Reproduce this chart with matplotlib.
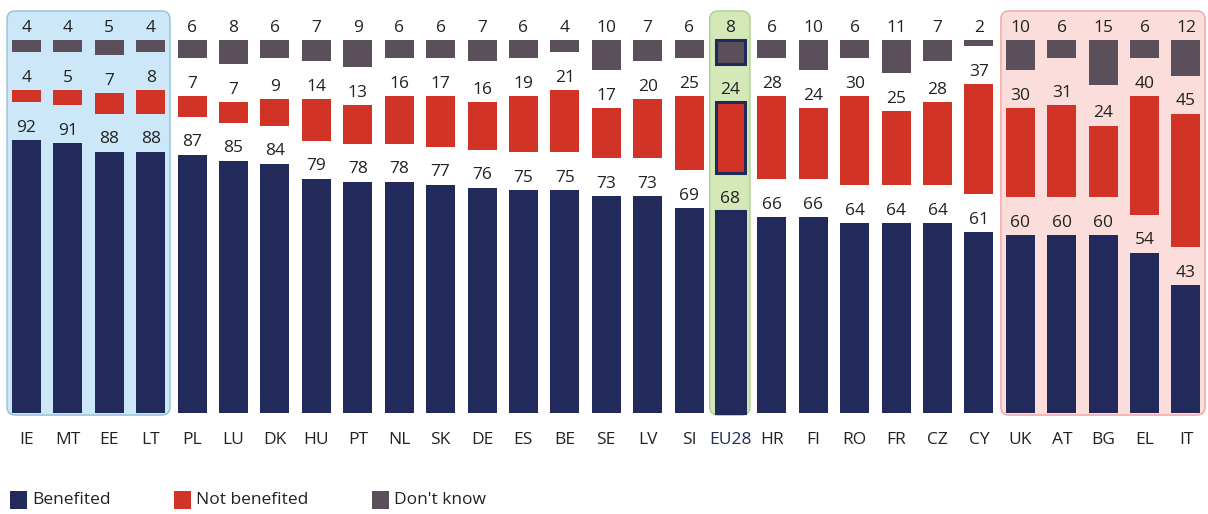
import matplotlib.pyplot as plt
from matplotlib.patches import FancyBboxPatch, Rectangle

plt.rcParams['font.family'] = ['Open Sans', 'DejaVu Sans']

countries = ['IE', 'MT', 'EE', 'LT', 'PL', 'LU', 'DK', 'HU', 'PT', 'NL', 'SK', 'DE', 'ES', 'BE',
             'SE', 'LV', 'SI', 'EU28', 'HR', 'FI', 'RO', 'FR', 'CZ', 'CY', 'UK', 'AT', 'BG', 'EL', 'IT']
benefited = [92, 91, 88, 88, 87, 85, 84, 79, 78, 78, 77, 76, 75, 75, 73, 73, 69, 68, 66, 66, 64, 64,
             64, 61, 60, 60, 60, 54, 43]
not_benefited = [4, 5, 7, 8, 7, 7, 9, 14, 13, 16, 17, 16, 19, 21, 17, 20, 25, 24, 28, 24, 30, 25,
                 28, 37, 30, 31, 24, 40, 45]
dont_know = [4, 4, 5, 4, 6, 8, 6, 7, 9, 6, 6, 7, 6, 4, 10, 7, 6, 8, 6, 10, 6, 11, 7, 2, 10, 6, 15, 6, 12]

navy = '#222a5c'
red = '#d13427'
grey = '#5a4f5a'

px = 2.967          # pixels per unit (vertical)
pitch = 41.41       # pixels per column
x0 = 26.5           # pixel centre of first column
gap = 12.8          # gap between the three blocks
top = 100 + 2 * gap

fig = plt.figure(figsize=(12.08, 5.14), dpi=100)
ax = fig.add_axes([0, (514 - 420) / 514, 1, 420 / 514])
ax.set_xlim(-x0 / pitch, (1208 - x0) / pitch)
ax.set_ylim(-7 / px, 413 / px)
ax.axis('off')

# background groups
def group_box(a, b, fc, ec):
    box = FancyBboxPatch((a, -0.7), b - a, 135.5 + 0.7,
                         boxstyle='round,pad=0,rounding_size=0.2', mutation_aspect=pitch / px,
                         fc=fc, ec=ec, lw=1, zorder=0)
    ax.add_patch(box)

group_box(-0.47, 3.465, '#cce8f8', '#8fc0da')
group_box(16.50, 17.47, '#d4e8b8', '#a8d08d')
group_box(23.53, 28.46, '#fbdedc', '#f4a0a0')

x = list(range(len(countries)))
w = 0.70
red_bottom = [b + gap for b in benefited]
grey_bottom = [top - d for d in dont_know]
eu = countries.index('EU28')
ec = ['none'] * len(countries)
lws = [0] * len(countries)
ec[eu] = navy
lws[eu] = 2.2

ax.bar(x, benefited, w, color=navy, edgecolor=ec, linewidth=lws, zorder=2)
ax.bar(x, not_benefited, w, bottom=red_bottom, color=red, edgecolor=ec, linewidth=lws, zorder=2)
ax.bar(x, dont_know, w, bottom=grey_bottom, color=grey, edgecolor=ec, linewidth=lws, zorder=2)

fs = 12.5
for i in x:
    ax.text(i, benefited[i] + 1.5, str(benefited[i]), ha='center', va='bottom', fontsize=fs, color='#222222')
    ax.text(i, red_bottom[i] + not_benefited[i] + 1.5, str(not_benefited[i]), ha='center', va='bottom',
            fontsize=fs, color='#222222')
    ax.text(i, top + 1.5, str(dont_know[i]), ha='center', va='bottom', fontsize=fs, color='#222222')
    ax.text(i, -19 / px, countries[i], ha='center', va='top', fontsize=fs,
            color=navy if i == eu else '#222222')

# legend
items = [('Benefited', navy, 10), ('Not benefited', red, 174), ('Don\'t know', grey, 372)]
for label, c, xp in items:
    fig.patches.append(Rectangle((xp / 1208, (514 - 509) / 514), 17 / 1208, 18 / 514,
                                 transform=fig.transFigure, fc=c, ec='none'))
    fig.text((xp + 22) / 1208, (514 - 500) / 514, label, ha='left', va='center', fontsize=fs,
             color='#222222')

fig.savefig('out.png', dpi=100)
